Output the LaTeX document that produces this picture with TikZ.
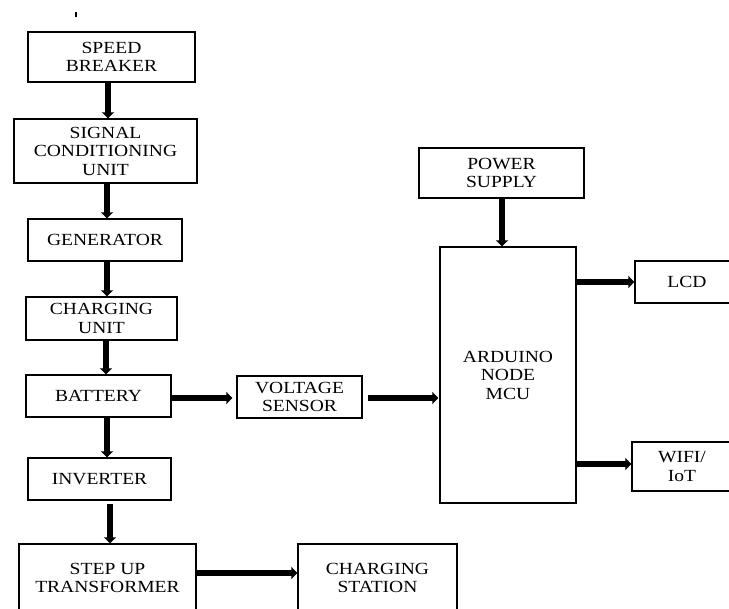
\documentclass[tikz,border=0pt]{standalone}
\usepackage{fontspec}
\setmainfont{Liberation Serif}[FakeStretch=1.15]
\usetikzlibrary{arrows.meta}
\tikzset{
  blk/.style={draw=black, line width=1.3pt, inner sep=0pt, align=center,
    font=\fontsize{17}{18.5}\selectfont},
  fat/.style={line width=6pt, -{Triangle[length=6pt,width=12pt]}},
}
\begin{document}
\begin{tikzpicture}[x=1pt,y=-1pt]
\useasboundingbox (0,0) rectangle (729,609);
% small tick
\coordinate (t1) at (76,12);
\coordinate (t2) at (76,17);
\draw[line width=1.3pt] (t1) -- (t2);
% boxes
\node[blk, minimum width=167pt, minimum height=50pt] (sb) at (111.5,57) {SPEED\\BREAKER};
\node[blk, minimum width=183pt, minimum height=64pt] (sc) at (105.5,151) {SIGNAL\\CONDITIONING\\UNIT};
\node[blk, minimum width=154pt, minimum height=42pt] (gen) at (105,240) {GENERATOR};
\node[blk, minimum width=151pt, minimum height=43pt] (cu) at (101.5,318.5) {CHARGING\\UNIT};
\node[blk, minimum width=145pt, minimum height=42pt] (bat) at (98.5,396) {BATTERY};
\node[blk, minimum width=143pt, minimum height=42pt] (inv) at (99.5,479) {INVERTER};
\node[blk, minimum width=177pt, minimum height=68pt] (step) at (107.5,578) {STEP UP\\TRANSFORMER};
\node[blk, minimum width=159pt, minimum height=68pt] (cs) at (377.5,578) {CHARGING\\STATION};
\node[blk, minimum width=125pt, minimum height=42pt] (vs) at (299.5,397) {VOLTAGE\\SENSOR};
\node[blk, minimum width=136pt, minimum height=256pt] (ard) at (508,375) {ARDUINO\\NODE\\MCU};
\node[blk, minimum width=165pt, minimum height=50pt] (ps) at (501.5,173) {POWER\\SUPPLY};
\node[blk, minimum width=104pt, minimum height=42pt] (lcd) at (687,282) {LCD};
\node[blk, minimum width=100pt, minimum height=49pt] (wifi) at (682,466.5) {WIFI/\\IoT};
% helper coordinates for arrow lines
\coordinate (x1) at (108,0);
\coordinate (x2) at (107,0);
\coordinate (x3) at (107,0);
\coordinate (x4) at (106,0);
\coordinate (x5) at (107,0);
\coordinate (x6) at (110,0);
\coordinate (x7) at (502,0);
\coordinate (y1) at (0,398);
\coordinate (y2) at (0,398);
\coordinate (y3) at (0,282);
\coordinate (y4) at (0,464);
\coordinate (y5) at (0,573);
% arrows
\draw[fat] (sb.south -| x1) -- (sc.north -| x1);
\draw[fat] (sc.south -| x2) -- (gen.north -| x2);
\draw[fat] (gen.south -| x3) -- (cu.north -| x3);
\draw[fat] (cu.south -| x4) -- (bat.north -| x4);
\draw[fat] (bat.south -| x5) -- (inv.north -| x5);
\draw[fat, shorten <=3pt] (inv.south -| x6) -- (step.north -| x6);
\draw[fat] (ps.south -| x7) -- (ard.north -| x7);
\draw[fat, shorten >=4pt] (bat.east |- y1) -- (vs.west |- y1);
\draw[fat, shorten <=5pt, shorten >=1pt] (vs.east |- y2) -- (ard.west |- y2);
\draw[fat] (ard.east |- y3) -- (lcd.west |- y3);
\draw[fat] (ard.east |- y4) -- (wifi.west |- y4);
\draw[fat] (step.east |- y5) -- (cs.west |- y5);
\end{tikzpicture}
\end{document}
